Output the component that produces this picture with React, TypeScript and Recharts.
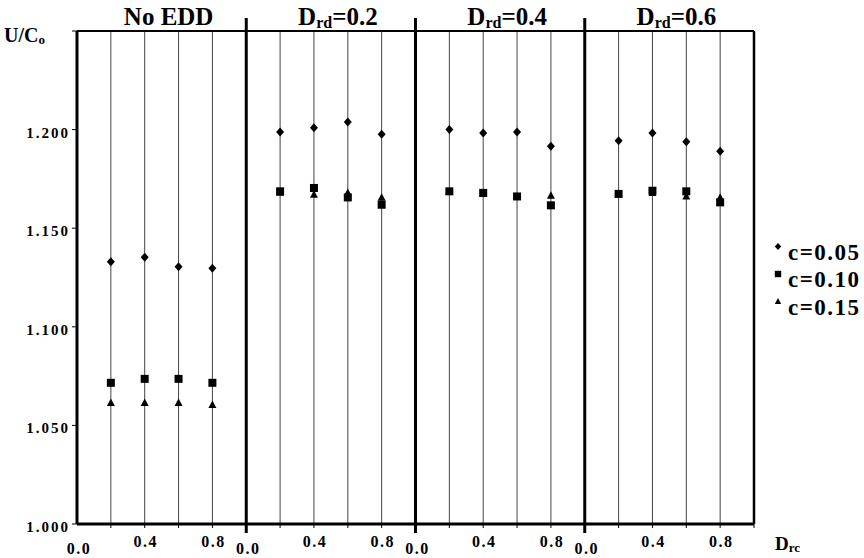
import { Legend, ReferenceLine, Scatter, ScatterChart, XAxis, YAxis } from 'recharts';

const FONT = '"Liberation Serif", "Times New Roman", Times, serif';

// panel headings, left to right
const panelTitles = ['No EDD', 'Drd=0.2', 'Drd=0.4', 'Drd=0.6'];
// Drc positions of the measurements inside each panel
const drcPositions = [0.2, 0.4, 0.6, 0.8];
const drcTickLabels = ['0.0', '0.4', '0.8'];
const yTicks = [1.0, 1.05, 1.1, 1.15, 1.2, 1.25];

// U/Co, four values per panel (No EDD, Drd=0.2, Drd=0.4, Drd=0.6)
const c005 = [
  1.133, 1.1353, 1.1305, 1.1297, 1.1988, 1.2009, 1.2039, 1.1976,
  1.2, 1.1983, 1.1988, 1.1915, 1.1944, 1.1983, 1.1939, 1.189,
];
const c010 = [
  1.0716, 1.0736, 1.0736, 1.0716, 1.1687, 1.1704, 1.1656, 1.1619,
  1.1687, 1.1679, 1.1661, 1.1616, 1.1674, 1.169, 1.1687, 1.1631,
];
const c015 = [
  1.0614, 1.0614, 1.0614, 1.0604, 1.168, 1.167, 1.1679, 1.1655,
  1.1685, 1.1675, 1.166, 1.1665, 1.1672, 1.1678, 1.1661, 1.1655,
];

type MarkerKind = 'diamond' | 'square' | 'triangle';

const series: { name: string; values: number[]; marker: MarkerKind }[] = [
  { name: 'c=0.05', values: c005, marker: 'diamond' },
  { name: 'c=0.10', values: c010, marker: 'square' },
  { name: 'c=0.15', values: c015, marker: 'triangle' },
];

function toPoints(values: number[]) {
  return values.map((y, i) => ({ x: Math.floor(i / 4) + drcPositions[i % 4], y }));
}

const xTicks = [...panelTitles.flatMap((_, p) => [0, 0.2, 0.4, 0.6, 0.8].map((d) => p + d)), 4];

function Marker({ kind, cx, cy, s = 1 }: { kind: MarkerKind; cx: number; cy: number; s?: number }) {
  if (kind === 'diamond') {
    return (
      <polygon
        points={`${cx},${cy - 4.5 * s} ${cx + 4 * s},${cy} ${cx},${cy + 4.5 * s} ${cx - 4 * s},${cy}`}
        fill="#000"
      />
    );
  }
  if (kind === 'square') {
    return <rect x={cx - 4 * s} y={cy - 4 * s} width={8 * s} height={8 * s} fill="#000" />;
  }
  return (
    <polygon
      points={`${cx},${cy - 4.5 * s} ${cx + 4 * s},${cy + 3 * s} ${cx - 4 * s},${cy + 3 * s}`}
      fill="#000"
    />
  );
}

function XTick(props: any) {
  const { x, y, payload } = props;
  const v = payload.value as number;
  const panel = Math.floor(v + 1e-6);
  const local = Math.round((v - panel) * 10) / 10;
  const isStart = local === 0 && v < 3.99;
  const lbl = drcTickLabels.find((t) => Number(t) === local);
  return (
    <g>
      {!isStart && v > 0.01 && <line x1={x} y1={y} x2={x} y2={y + 4} stroke="#000" />}
      {lbl && v < 3.99 && (
        <text
          x={x + (isStart ? 2 : 1)}
          y={y + (isStart ? 30 : 23)}
          textAnchor="middle"
          fontSize={16}
          fontWeight="bold"
          fontFamily={FONT}
          letterSpacing={1.5}
          fill="#000"
        >
          {lbl}
        </text>
      )}
    </g>
  );
}

function YTick(props: any) {
  const { x, y, payload } = props;
  const v = payload.value as number;
  return (
    <g>
      <line x1={x - 5} y1={y} x2={x} y2={y} stroke="#000" />
      {v < 1.249 && (
        <text
          x={x - 7}
          y={y + 8}
          textAnchor="end"
          fontSize={15}
          fontWeight="bold"
          fontFamily={FONT}
          letterSpacing={2}
          fill="#000"
        >
          {v.toFixed(3)}
        </text>
      )}
    </g>
  );
}

function titleLabel(title: string) {
  return (props: any) => {
    const vb = props.viewBox;
    const common = {
      x: vb.x + 7,
      y: vb.y - 6,
      textAnchor: 'middle' as const,
      fontSize: 25,
      fontWeight: 'bold',
      fontFamily: FONT,
      fill: '#000',
    };
    if (!title.startsWith('Drd')) return <text {...common}>{title}</text>;
    return (
      <text {...common}>
        D
        <tspan fontSize={16} dy={3}>rd</tspan>
        <tspan dy={-3}>{title.slice(3)}</tspan>
      </text>
    );
  };
}

function ULabel(props: any) {
  const vb = props.viewBox;
  return (
    <text x={vb.x + 4} y={vb.y + 11} fontSize={20} fontWeight="bold" fontFamily={FONT} fill="#000">
      U/C
      <tspan fontSize={13} dy={2}>o</tspan>
    </text>
  );
}

function DrcLabel(props: any) {
  const vb = props.viewBox;
  return (
    <text x={vb.x + vb.width + 21} y={vb.y + 26} fontSize={19} fontWeight="bold" fontFamily={FONT} fill="#000">
      D
      <tspan fontSize={13} dy={2}>rc</tspan>
    </text>
  );
}

function LegendContent() {
  return (
    <svg width={94} height={90}>
      {series.map((s, i) => {
        const base = 24.5 + i * 27.5;
        return (
          <g key={s.name}>
            <Marker kind={s.marker} cx={8} cy={base - 13} s={0.8} />
            <text x={18} y={base} fontSize={23} fontWeight="bold" fontFamily={FONT} letterSpacing={1.5} fill="#000">
              {s.name}
            </text>
          </g>
        );
      })}
    </svg>
  );
}

export default function App() {
  return (
    <div style={{ position: 'absolute', left: 0, top: 0, background: '#fff' }}>
      <ScatterChart width={864} height={558} margin={{ top: 31, right: 110, bottom: 0, left: 0 }}>
        <XAxis
          dataKey="x"
          type="number"
          domain={[0, 4]}
          allowDataOverflow
          ticks={xTicks}
          interval={0}
          height={34}
          tickSize={0}
          tickMargin={0}
          tick={XTick}
          axisLine={{ stroke: '#000', strokeWidth: 3 }}
          label={{ content: DrcLabel }}
        />
        <YAxis
          dataKey="y"
          type="number"
          domain={[1, 1.25]}
          allowDataOverflow
          ticks={yTicks}
          interval={0}
          width={77}
          tickSize={0}
          tickMargin={0}
          tick={YTick}
          axisLine={{ stroke: '#000', strokeWidth: 3 }}
          label={{ content: ULabel }}
        />
        {panelTitles.flatMap((_, p) =>
          drcPositions.map((d) => (
            <ReferenceLine key={`v${p}-${d}`} x={p + d} stroke="#444" strokeWidth={1} />
          )),
        )}
        <ReferenceLine y={1.25} stroke="#000" strokeWidth={2} />
        <ReferenceLine x={4} stroke="#000" strokeWidth={2.5} />
        {/* thick panel separators poke out above and below the frame */}
        {[1, 2, 3].map((p) => (
          <ReferenceLine
            key={`sep${p}`}
            segment={[
              { x: p, y: 0.99545 },
              { x: p, y: 1.2566 },
            ]}
            ifOverflow="visible"
            stroke="#000"
            strokeWidth={3}
          />
        ))}
        {panelTitles.map((t, p) => (
          <ReferenceLine key={`t${p}`} x={p + 0.5} stroke="none" label={{ content: titleLabel(t) }} />
        ))}
        {series.map((s) => (
          <Scatter
            key={s.name}
            name={s.name}
            data={toPoints(s.values)}
            isAnimationActive={false}
            shape={(p: any) => <Marker kind={s.marker} cx={p.cx} cy={p.cy} />}
          />
        ))}
        <Legend
          layout="vertical"
          align="center"
          verticalAlign="middle"
          wrapperStyle={{ left: 770, top: 235, width: 94 }}
          content={LegendContent}
        />
      </ScatterChart>
    </div>
  );
}
